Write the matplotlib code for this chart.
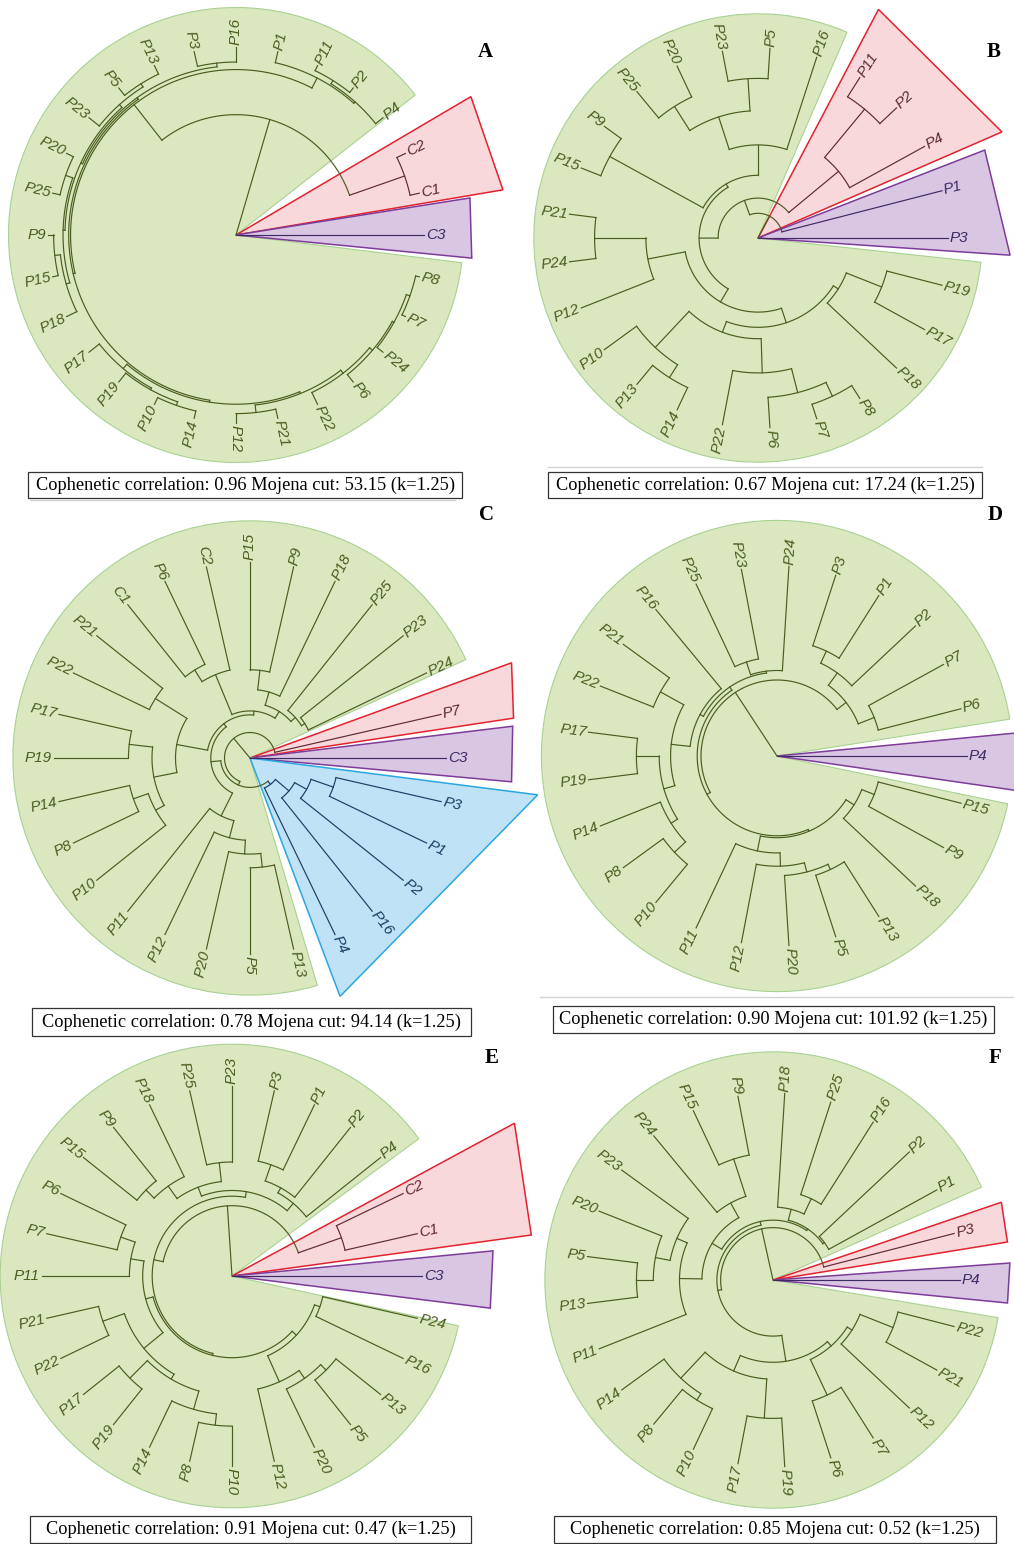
import numpy as np
import matplotlib
matplotlib.use("Agg")
import matplotlib.pyplot as plt
from matplotlib.patches import Wedge, Polygon, Rectangle

W, H = 1014, 1544

# leaf order of each dendrogram, counterclockwise starting at 0 degrees
order_A = ["C3", "C1", "C2", "P4", "P2", "P11", "P1", "P16", "P3", "P13", "P5", "P23", "P20", "P25",
           "P9", "P15", "P18", "P17", "P19", "P10", "P14", "P12", "P21", "P22", "P6", "P24", "P7", "P8"]
order_B = ["P3", "P1", "P4", "P2", "P11", "P16", "P5", "P23", "P20", "P25", "P9", "P15", "P21",
           "P24", "P12", "P10", "P13", "P14", "P22", "P6", "P7", "P8", "P18", "P17", "P19"]
order_C = ["C3", "P7", "P24", "P23", "P25", "P18", "P9", "P15", "C2", "P6", "C1", "P21", "P22", "P17",
           "P19", "P14", "P8", "P10", "P11", "P12", "P20", "P5", "P13", "P4", "P16", "P2", "P1", "P3"]
order_D = ["P4", "P6", "P7", "P2", "P1", "P3", "P24", "P23", "P25", "P16", "P21", "P22", "P17",
           "P19", "P14", "P8", "P10", "P11", "P12", "P20", "P5", "P13", "P18", "P9", "P15"]
order_E = ["C3", "C1", "C2", "P4", "P2", "P1", "P3", "P23", "P25", "P18", "P9", "P15", "P6", "P7",
           "P11", "P21", "P22", "P17", "P19", "P14", "P8", "P10", "P12", "P20", "P5", "P13", "P16", "P24"]
order_F = ["P4", "P3", "P1", "P2", "P16", "P25", "P18", "P9", "P15", "P24", "P23", "P20", "P5",
           "P13", "P11", "P14", "P8", "P10", "P17", "P19", "P6", "P7", "P12", "P21", "P22"]

# merge trees: [height, child, child], height as fraction of root height
pa_A = [.06, "P1", [.05, "P4", [.03, "P11", "P2"]]]
l1_A = [.10, [.08, "P16", "P3"], [.09, [.07, [.05, "P13", "P5"], "P23"],
                                  [.08, [.04, "P20", "P25"], [.06, [.03, "P9", "P15"], "P18"]]]]
r1_A = [.10, [.07, "P17", [.06, "P19", [.04, "P10", "P14"]]],
        [.09, [.05, "P12", "P21"], [.07, "P22", [.05, "P6", [.04, "P24", [.02, "P7", "P8"]]]]]]
tree_A = [1.0, "C3", [.36, [.05, "C1", "C2"], [.12, pa_A, [.11, l1_A, r1_A]]]]

u_B = [.51, "P16", [.33, [.16, "P5", "P23"], [.18, "P20", "P25"]]]
rest_B = [.61, [.41, [.14, "P21", "P24"], "P12"],
          [.53, [.47, [.21, "P10", [.13, "P13", "P14"]], [.29, "P22", [.16, "P6", [.08, "P7", "P8"]]]],
           [.50, "P18", [.30, "P17", "P19"]]]]
tree_B = [1.0, "P3", [.87, "P1", [.79, [.45, "P4", [.12, "P11", "P2"]],
                                  [.69, [.67, u_B, [.11, "P9", "P15"]], rest_B]]]]

blue_C = [.83, "P4", [.74, "P16", [.67, "P2", [.55, "P1", "P3"]]]]
top_C = [.76, [.72, [.69, "P25", [.67, "P23", "P24"]], [.65, "P18", [.55, "P9", "P15"]]],
         [.54, "C2", [.47, "P6", "C1"]]]
left_C = [.62, [.43, "P21", "P22"], [.50, [.38, "P17", "P19"], [.45, [.37, "P14", "P8"], "P10"]]]
bottom_C = [.67, "P11", [.58, "P12", [.51, "P20", [.44, "P5", "P13"]]]]
tree_C = [1.0, "C3", [.87, "P7", [.85, [.80, [.78, top_C, left_C], bottom_C], blue_C]]]

rt_D = [.54, [.46, "P2", [.39, "P3", "P1"]], [.45, "P7", "P6"]]
lu_D = [.56, [.55, "P24", [.48, "P23", "P25"]],
        [.54, "P16", [.44, [.30, "P21", "P22"], [.38, [.26, "P17", "P19"], [.34, "P14", [.26, "P8", "P10"]]]]]]
lb_D = [.57, [.49, "P11", [.42, "P12", [.37, "P20", [.34, "P5", "P13"]]]], [.52, "P18", [.45, "P9", "P15"]]]
tree_D = [1.0, "P4", [.60, rt_D, [.58, lu_D, lb_D]]]

e1 = [.50, "P4", [.47, "P2", [.38, "P3", "P1"]]]
e2 = [.50, [.40, "P23", "P25"], [.42, "P18", [.36, "P9", "P15"]]]
e3 = [.46, "P11", [.38, "P6", "P7"]]
e4 = [.40, [.28, "P21", "P22"], [.37, [.24, "P17", "P19"], [.27, "P14", [.21, "P8", "P10"]]]]
e5 = [.39, "P12", [.34, "P20", [.30, "P5", "P13"]]]
e6 = [.51, "P16", "P24"]
tree_E = [1.0, "C3", [.63, [.39, "C1", "C2"], [.58, [.55, e1, e2], [.57, [.53, e3, e4], [.54, e5, e6]]]]]

f1 = [.66, "P1", "P2"]
f2 = [.61, [.52, "P16", "P25"], "P18"]
f3 = [.53, [.32, "P9", "P15"], "P24"]
f4 = [.50, [.44, "P23", [.36, "P20", [.27, "P5", "P13"]]], "P11"]
f5 = [.47, [.28, "P14", [.24, "P8", "P10"]], [.26, "P17", "P19"]]
f6 = [.53, [.32, "P6", "P7"], [.50, "P12", [.31, "P21", "P22"]]]
tree_F = [1.0, "P4", [.72, "P3", [.70, [.68, [.67, f1, f2], [.62, f3, f4]], [.56, f5, f6]]]]

# highlighted groups
groups_A = {"red": ["C1", "C2"], "purple": ["C3"]}
groups_B = {"red": ["P4", "P2", "P11"], "purple": ["P3", "P1"]}
groups_C = {"red": ["P7"], "purple": ["C3"], "blue": ["P4", "P16", "P2", "P1", "P3"]}
groups_D = {"purple": ["P4"]}
groups_E = {"red": ["C1", "C2"], "purple": ["C3"]}
groups_F = {"red": ["P3"], "purple": ["P4"]}

letters = ["A", "B", "C", "D", "E", "F"]
coph = [0.96, 0.67, 0.78, 0.90, 0.91, 0.85]
mojena = ["53.15", "17.24", "94.14", "101.92", "0.47", "0.52"]

# colours
fill = {"green": "#dbe8bf", "red": "#f8d8db", "purple": "#d9c6e3", "blue": "#bfe2f6"}
edge = {"green": "#a9d193", "red": "#e3222f", "purple": "#7d3c98", "blue": "#2aa7e0"}
ink = {"green": "#4b5c1f", "red": "#5e2a35", "purple": "#3f2a63", "blue": "#1b3f63"}

# panel layout in pixels: box, centre, leaf radius, green sector, highlight triangles
panels = [
    dict(box=(0, 0, 507, 468), c=(236, 235), R=188, green=(38, 353, 1.21),
         tri=[("red", 9.6, 1.44, 30.5, 1.45), ("purple", -5.6, 1.26, 9.0, 1.26)]),
    dict(box=(507, 0, 1014, 466), c=(758, 238), R=190, green=(66.6, 353.8, 1.18),
         tri=[("red", 23.5, 1.40, 62.2, 1.36), ("purple", -3.9, 1.33, 21.2, 1.28)]),
    dict(box=(0, 502, 545, 1004), c=(250, 758), R=196, green=(24.5, 286.5, 1.21),
         tri=[("red", 8.6, 1.36, 20.0, 1.42), ("purple", -5.2, 1.34, 6.9, 1.35),
              ("blue", 290.7, 1.30, 352.7, 1.48)]),
    dict(box=(536, 502, 1014, 996), c=(777, 756), R=190, green=(9, 348.3, 1.24),
         tri=[("purple", -8.2, 1.45, 5.5, 1.45)]),
    dict(box=(0, 1038, 540, 1512), c=(232, 1276), R=190, green=(36.3, 347.6, 1.22),
         tri=[("red", 7.8, 1.59, 28.4, 1.69), ("purple", -7.1, 1.37, 5.5, 1.38)]),
    dict(box=(540, 1038, 1014, 1512), c=(773, 1280), R=187, green=(24, 350.5, 1.22),
         tri=[("red", 9.2, 1.27, 18.8, 1.29), ("purple", -5.6, 1.26, 4.1, 1.27)]),
]
captions = [(28, 472, 462, 498), (548, 472, 982, 498), (32, 1008, 471, 1036),
            (553, 1006, 994, 1033), (30, 1516, 471, 1543), (554, 1516, 996, 1543)]
letter_pos = [(485, 52), (994, 52), (486, 515), (995, 515), (492, 1058), (995, 1058)]

orders = [order_A, order_B, order_C, order_D, order_E, order_F]
trees = [tree_A, tree_B, tree_C, tree_D, tree_E, tree_F]
groups = [groups_A, groups_B, groups_C, groups_D, groups_E, groups_F]


def draw_node(ax, node, ang, col):
    if isinstance(node, str):
        return ang[node], 1.0, col[node]
    r = 1.0 - node[0]
    kids = [draw_node(ax, k, ang, col) for k in node[1:]]
    a = [k[0] for k in kids]
    cs = set(k[2] for k in kids)
    c = cs.pop() if len(cs) == 1 else "green"
    t = np.radians(np.linspace(min(a), max(a), 80))
    ax.plot(r * np.cos(t), r * np.sin(t), color=ink[c], lw=0.85, zorder=4)
    for ka, kr, kc in kids:
        t = np.radians(ka)
        ax.plot([r * np.cos(t), kr * np.cos(t)], [r * np.sin(t), kr * np.sin(t)],
                color=ink[kc], lw=0.85, zorder=4)
    return (min(a) + max(a)) / 2, r, c


fig = plt.figure(figsize=(W / 100, H / 100), dpi=100)

for i, p in enumerate(panels):
    x0, y0, x1, y1 = p["box"]
    cx, cy = p["c"]
    R = p["R"]
    ax = fig.add_axes([x0 / W, 1 - y1 / H, (x1 - x0) / W, (y1 - y0) / H])
    ax.set_xlim((x0 - cx) / R, (x1 - cx) / R)
    ax.set_ylim((cy - y1) / R, (cy - y0) / R)
    ax.axis("off")

    g1, g2, gr = p["green"]
    ax.add_patch(Wedge((0, 0), gr, g1, g2, facecolor=fill["green"], edgecolor=edge["green"], lw=0.8, zorder=1))
    for name, ta, ra, tb, rb in p["tri"]:
        pts = [(0, 0), (ra * np.cos(np.radians(ta)), ra * np.sin(np.radians(ta))),
               (rb * np.cos(np.radians(tb)), rb * np.sin(np.radians(tb)))]
        ax.add_patch(Polygon(pts, closed=True, facecolor=fill[name], edgecolor=edge[name], lw=1.1, zorder=2))

    order = orders[i]
    step = 360.0 / len(order)
    ang = {lab: k * step for k, lab in enumerate(order)}
    col = {lab: "green" for lab in order}
    for name, labs in groups[i].items():
        for lab in labs:
            col[lab] = name
    draw_node(ax, trees[i], ang, col)

    for lab in order:
        a = ang[lab]
        t = np.radians(a)
        rr = 1.0 + 2.0 / R
        if 90 < a < 270:
            rot, ha = a - 180, "right"
        else:
            rot, ha = a, "left"
        ax.text(rr * np.cos(t), rr * np.sin(t), lab, rotation=rot, rotation_mode="anchor",
                ha=ha, va="center", fontsize=11, style="italic", color=ink[col[lab]],
                family="Liberation Sans", zorder=5)

    lx, ly = letter_pos[i]
    fig.text(lx / W, 1 - ly / H, letters[i], ha="center", va="center", fontsize=15,
             fontweight="bold", family="Liberation Serif")

    bx0, by0, bx1, by1 = captions[i]
    fig.add_artist(Rectangle((bx0 / W, 1 - by1 / H), (bx1 - bx0) / W, (by1 - by0) / H,
                             transform=fig.transFigure, facecolor="white", edgecolor="#333333", lw=0.9))
    txt = "Cophenetic correlation: %.2f Mojena cut: %s (k=1.25)" % (coph[i], mojena[i])
    fig.text((bx0 + bx1) / 2 / W, 1 - (by0 + by1) / 2 / H, txt, ha="center", va="center",
             fontsize=13.2, family="Liberation Serif")

# thin grey separators
for xa, xb, yy in [(548, 982, 467), (30, 455, 500), (540, 1014, 997)]:
    fig.add_artist(plt.Line2D([xa / W, xb / W], [1 - yy / H, 1 - yy / H], transform=fig.transFigure,
                              color="#d4d4d4", lw=1.0))

fig.savefig("out.png", dpi=100)
